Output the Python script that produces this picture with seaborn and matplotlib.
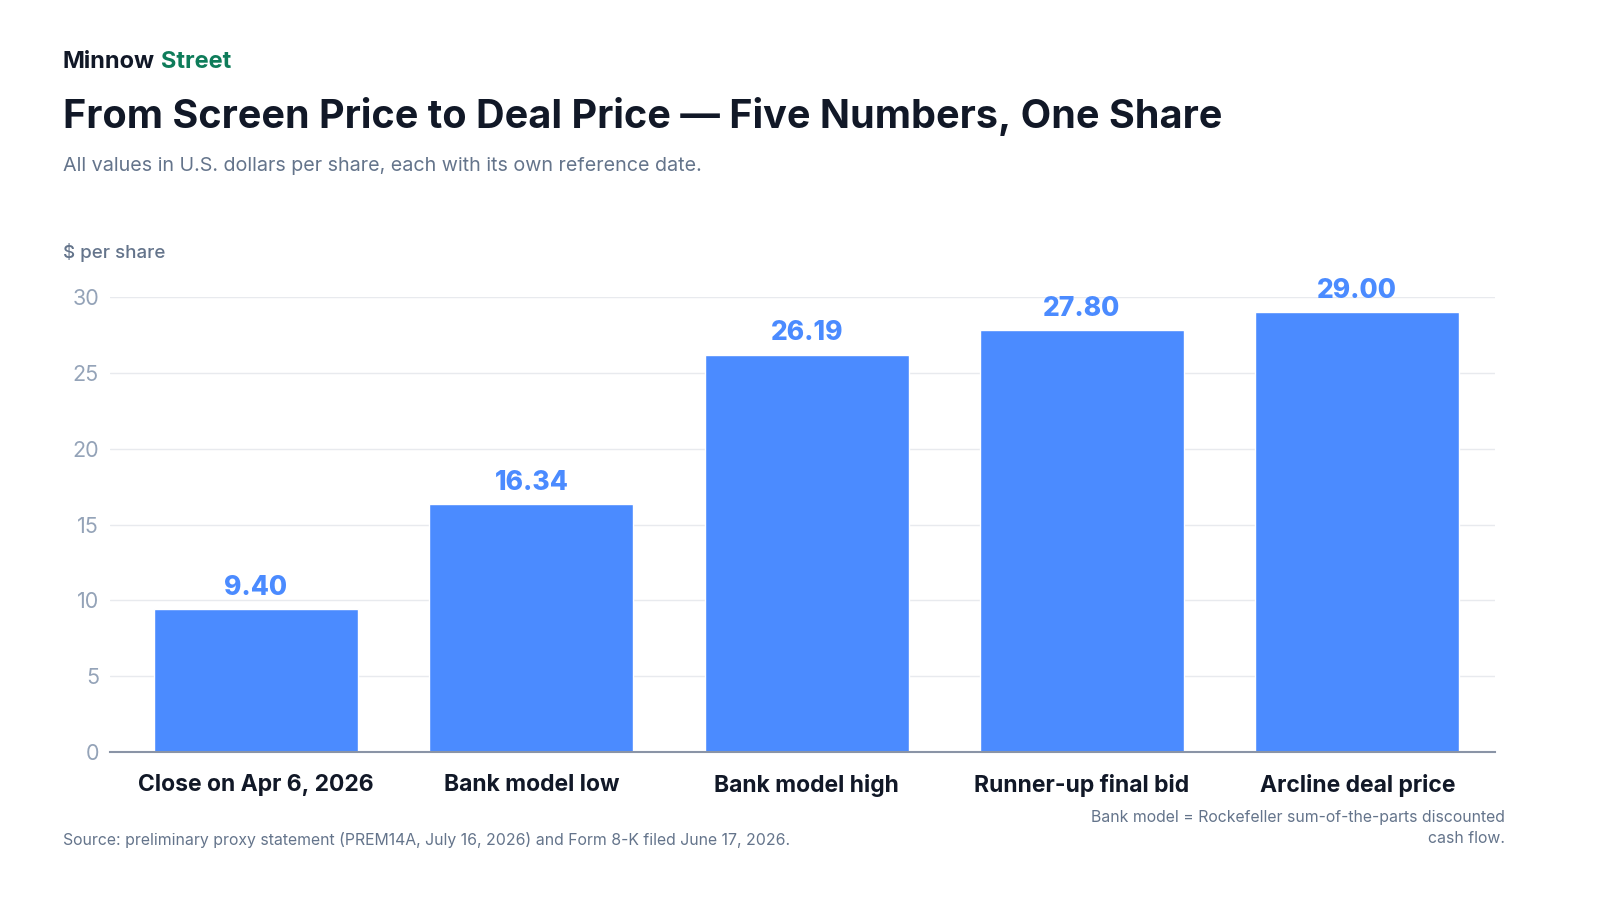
import matplotlib
matplotlib.use("Agg")
import matplotlib.pyplot as plt
import seaborn as sns
import pandas as pd

categories = ["Close on Apr 6, 2026", "Bank model low", "Bank model high",
              "Runner-up final bid", "Arcline deal price"]
values = [9.40, 16.34, 26.19, 27.80, 29.00]
value_labels = ["9.40", "16.34", "26.19", "27.80", "29.00"]
y_ticks = [0, 5, 10, 15, 20, 25, 30]

BLUE = "#4B8BFF"
DARK = "#111827"
GRAY = "#64748B"
TICK = "#94A3B8"

sns.set_theme(style="white")
plt.rcParams['font.family'] = ['Inter', 'DejaVu Sans']

df = pd.DataFrame({"category": categories, "value": values})

fig = plt.figure(figsize=(16, 9), dpi=100)
ax = fig.add_axes([0.0688, 0.1644, 0.8656, 0.5056])

sns.barplot(data=df, x="category", y="value", color=BLUE, saturation=1,
            width=0.74, ax=ax, zorder=3)

ax.set_ylim(0, 30)
ax.set_xlim(-0.53, 4.5)
ax.set_yticks(y_ticks)
ax.set_yticklabels([str(t) for t in y_ticks])
ax.grid(axis="y", color="#E8EAEE", linewidth=1, zorder=0)
ax.set_axisbelow(True)
for s in ["top", "right", "left"]:
    ax.spines[s].set_visible(False)
ax.spines["bottom"].set_color("#8A94A6")
ax.spines["bottom"].set_linewidth(1.5)
ax.spines["bottom"].set_zorder(4)
ax.tick_params(axis="y", length=0, pad=8, labelsize=15.5, labelcolor=TICK)
ax.tick_params(axis="x", length=0, pad=16, labelsize=16.5, labelcolor=DARK)
for lab in ax.get_xticklabels():
    lab.set_fontweight("bold")
ax.set_xlabel("")
ax.set_ylabel("")

for i, (v, lab) in enumerate(zip(values, value_labels)):
    ax.annotate(lab, (i, v), xytext=(0, 6), textcoords="offset points",
                ha="center", va="bottom", fontsize=19, fontweight="heavy",
                color=BLUE, clip_on=False)

fig.text(63/1600, 1-62/900, "Minnow", fontsize=17, fontweight="bold",
         color=DARK, va="center", ha="left")
fig.text(161/1600, 1-62/900, "Street", fontsize=17, fontweight="bold",
         color="#0E7C5A", va="center", ha="left")
fig.text(63/1600, 1-117/900, "From Screen Price to Deal Price \u2014 Five Numbers, One Share",
         fontsize=28.5, fontweight="bold", color=DARK, va="center", ha="left")
fig.text(63/1600, 1-166/900, "All values in U.S. dollars per share, each with its own reference date.",
         fontsize=14.2, color=GRAY, va="center", ha="left")
fig.text(63/1600, 1-253/900, "$ per share", fontsize=13.5, fontweight="medium",
         color=GRAY, va="center", ha="left")
fig.text(63/1600, 1-840/900,
         "Source: preliminary proxy statement (PREM14A, July 16, 2026) and Form 8-K filed June 17, 2026.",
         fontsize=11.4, color=GRAY, va="center", ha="left")
fig.text(1505/1600, 1-828/900,
         "Bank model = Rockefeller sum-of-the-parts discounted\ncash flow.",
         fontsize=11.4, color=GRAY, va="center", ha="right", multialignment="right",
         linespacing=1.55)

fig.savefig("out.png", dpi=100, facecolor="white")
